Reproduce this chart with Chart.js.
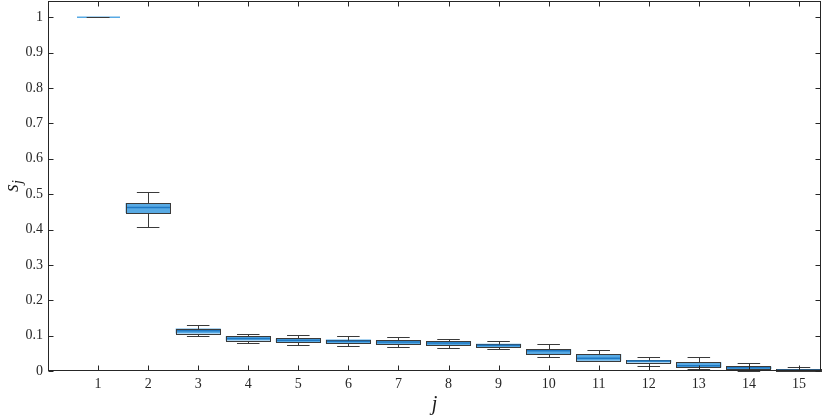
<!DOCTYPE html>
<html>
<head>
<meta charset="utf-8">
<script src="https://cdn.jsdelivr.net/npm/chart.js@4"></script>
<style>
  body { margin: 0; background: #fff; }
  #wrap { width: 830px; height: 418px; }
</style>
</head>
<body>
<div id="wrap"><canvas id="boxChart" width="830" height="418"></canvas></div>
<script>
// data
const categories = [1, 2, 3, 4, 5, 6, 7, 8, 9, 10, 11, 12, 13, 14, 15];
const whiskerLow  = [1, 0.407, 0.099, 0.079, 0.073, 0.070, 0.067, 0.064, 0.061, 0.040, 0.027, 0.015, 0.005, 0.001, 0.000];
const quart1      = [1, 0.447, 0.106, 0.086, 0.081, 0.078, 0.075, 0.073, 0.067, 0.048, 0.029, 0.024, 0.010, 0.005, 0.000];
const medians     = [1, 0.462, 0.114, 0.092, 0.087, 0.084, 0.082, 0.079, 0.073, 0.057, 0.036, 0.028, 0.015, 0.009, 0.002];
const quart3      = [1, 0.475, 0.120, 0.098, 0.092, 0.089, 0.087, 0.084, 0.077, 0.062, 0.048, 0.031, 0.025, 0.013, 0.006];
const whiskerHigh = [1, 0.507, 0.129, 0.106, 0.103, 0.099, 0.096, 0.090, 0.084, 0.076, 0.059, 0.039, 0.039, 0.022, 0.012];
const yTickValues = [0, 0.1, 0.2, 0.3, 0.4, 0.5, 0.6, 0.7, 0.8, 0.9, 1];

const boxFill = 'rgb(88,170,228)';
const medianColor = 'rgb(30,120,195)';
const lineColor = '#3a3a3a';
const axisColor = '#262626';
const serifFamily = '"Liberation Serif", serif';
const tickFont = { family: serifFamily, size: 14 };

// box outlines, whiskers, medians, frame, inward ticks and axis titles
const boxExtras = {
    id: 'boxExtras',
    afterDatasetsDraw(chart) {
        const ctx = chart.ctx;
        const x = chart.scales.x, y = chart.scales.y;
        const halfCap = 0.225;
        const bars = chart.getDatasetMeta(0).data;
        ctx.save();
        categories.forEach((c, i) => {
            const bar = bars[i];
            const xl = Math.round(bar.x - bar.width / 2) + 0.5;
            const xr = Math.round(bar.x + bar.width / 2) - 0.5;
            const yTop = Math.round(y.getPixelForValue(quart3[i])) + 0.5;
            const yBot = Math.round(y.getPixelForValue(quart1[i])) + 0.5;
            const cl = x.getPixelForValue(c - halfCap), cr = x.getPixelForValue(c + halfCap);
            const xc = Math.round(x.getPixelForValue(c)) + 0.5;
            const yMed = y.getPixelForValue(medians[i]);
            // box outline
            ctx.lineWidth = 1;
            if (quart1[i] !== quart3[i]) {
                ctx.strokeStyle = lineColor;
                ctx.strokeRect(xl, yTop, xr - xl, yBot - yTop);
            }
            // median
            ctx.strokeStyle = quart1[i] === quart3[i] ? boxFill : medianColor;
            ctx.lineWidth = 1.5;
            ctx.beginPath();
            ctx.moveTo(xl + 0.5, yMed); ctx.lineTo(xr - 0.5, yMed);
            ctx.stroke();
            // whiskers
            ctx.strokeStyle = lineColor;
            ctx.lineWidth = 1;
            const yHi = Math.round(y.getPixelForValue(whiskerHigh[i])) + 0.5;
            const yLo = Math.round(y.getPixelForValue(whiskerLow[i])) + 0.5;
            ctx.beginPath();
            ctx.moveTo(xc, yTop); ctx.lineTo(xc, yHi);
            ctx.moveTo(xc, yBot); ctx.lineTo(xc, yLo);
            ctx.moveTo(cl, yHi); ctx.lineTo(cr, yHi);
            ctx.moveTo(cl, yLo); ctx.lineTo(cr, yLo);
            ctx.stroke();
        });
        ctx.restore();
    },
    afterDraw(chart) {
        const ctx = chart.ctx;
        const a = chart.chartArea;
        const x = chart.scales.x, y = chart.scales.y;
        const tl = 5;
        ctx.save();
        ctx.strokeStyle = axisColor;
        ctx.lineWidth = 1;
        const L = Math.round(a.left) + 0.5, R = Math.round(a.right) - 0.5;
        const T = Math.round(a.top) + 0.5, B = Math.round(a.bottom) - 0.5;
        ctx.strokeRect(L, T, R - L, B - T);
        ctx.beginPath();
        categories.forEach(c => {
            const px = Math.round(x.getPixelForValue(c)) + 0.5;
            ctx.moveTo(px, B); ctx.lineTo(px, B - tl);
            ctx.moveTo(px, T); ctx.lineTo(px, T + tl);
        });
        yTickValues.forEach(v => {
            const py = Math.round(y.getPixelForValue(v)) + 0.5;
            ctx.moveTo(L, py); ctx.lineTo(L + tl, py);
            ctx.moveTo(R, py); ctx.lineTo(R - tl, py);
        });
        ctx.stroke();

        // axis titles
        ctx.fillStyle = '#1a1a1a';
        ctx.font = 'italic 20px ' + serifFamily;
        ctx.textAlign = 'center';
        ctx.textBaseline = 'alphabetic';
        ctx.fillText('j', (a.left + a.right) / 2, 410);

        ctx.translate(18, a.top + (a.bottom - a.top) / 2);
        ctx.rotate(-Math.PI / 2);
        ctx.textAlign = 'left';
        ctx.font = 'italic 20px ' + serifFamily;
        ctx.fillText('s', -6, 0);
        ctx.font = 'italic 14px ' + serifFamily;
        ctx.fillText('j', 2, 4);
        ctx.restore();
    }
};

const fmt = v => String(Number(v.toFixed(2)));

const ctx = document.getElementById('boxChart').getContext('2d');
new Chart(ctx, {
    type: 'bar',
    data: {
        datasets: [{
            label: 'IQR',
            data: categories.map((c, i) => ({ x: c, y: [quart1[i], quart3[i]] })),
            backgroundColor: boxFill,
            borderWidth: 0,
            categoryPercentage: 0.9,
            barPercentage: 1.0
        }]
    },
    options: {
        responsive: false,
        animation: false,
        layout: { padding: { top: 1, right: 9, left: 0, bottom: 0 } },
        plugins: {
            legend: { display: false },
            tooltip: { enabled: false }
        },
        scales: {
            x: {
                type: 'linear',
                offset: false,
                min: 0,
                max: 15.44,
                grid: { display: false, drawTicks: false, offset: false },
                border: { display: false },
                afterBuildTicks: s => { s.ticks = categories.map(v => ({ value: v })); },
                afterFit: s => { s.height = 47; s.paddingLeft = 0; s.paddingRight = 0; },
                ticks: { color: axisColor, font: tickFont, padding: 5, maxRotation: 0, callback: fmt }
            },
            y: {
                min: 0,
                max: 1.046,
                grid: { display: false, drawTicks: false },
                border: { display: false },
                afterBuildTicks: s => { s.ticks = yTickValues.map(v => ({ value: v })); },
                afterFit: s => { s.width = 48; s.paddingTop = 0; s.paddingBottom = 0; },
                ticks: { color: axisColor, font: tickFont, padding: 5, callback: fmt }
            }
        }
    },
    plugins: [boxExtras]
});
</script>
</body>
</html>
